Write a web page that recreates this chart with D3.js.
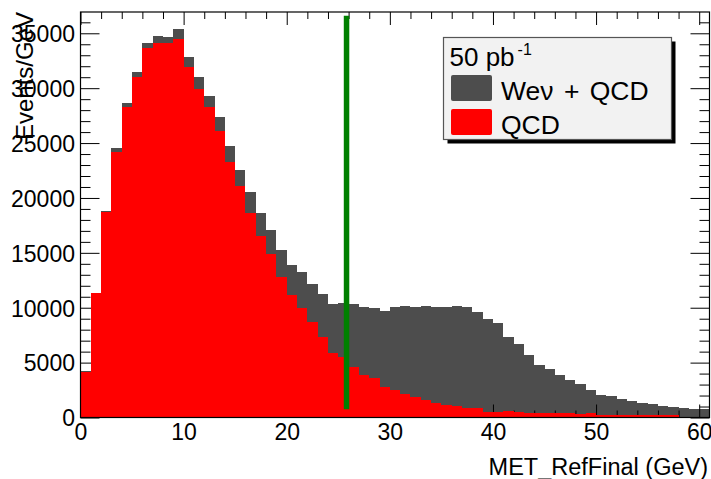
<!DOCTYPE html>
<html><head><meta charset="utf-8">
<script src="https://cdn.jsdelivr.net/npm/d3@7"></script>
<style>body{margin:0;background:#fff}svg{display:block}</style>
</head><body><svg id="c" width="711" height="479"></svg>
<script>
// ---- data ----
const binLow = [0,1,2,3,4,5,6,7,8,9,10,11,12,13,14,15,16,17,18,19,20,21,22,23,24,25,26,27,28,29,30,
  31,32,33,34,35,36,37,38,39,40,41,42,43,44,45,46,47,48,49,50,51,52,53,54,55,56,57,58,59,60];
const binWidth = 1;
const totalWeQCD = [4200,11350,18800,24520,28620,31500,34140,34750,34640,35360,
  32870,30990,29290,27350,24760,22550,20570,18660,17080,15260,
  13890,13280,12140,11230,10340,10460,10340,10090,9950,9680,
  10040,10160,10040,10160,10090,10090,10160,10090,9610,8950,
  8580,7310,6700,5690,4780,4390,3870,3420,3030,2510,
  2020,1960,1660,1500,1290,1200,1050,980,890,750,750];
const qcdOnly = [4170,11320,18750,24210,28310,31050,33690,34140,34140,34450,
  31960,29900,28260,26100,23250,21090,18660,16540,14900,12830,
  11160,9950,8670,7360,5900,5540,4570,3870,3570,2810,
  2510,2140,1840,1590,1290,1140,1050,840,840,530,
  530,620,530,440,380,380,380,380,320,380,
  230,230,230,230,230,230,230,230,70,70,70];
const xTickValues = [0,10,20,30,40,50,60];
const xTickLabels = ["0","10","20","30","40","50","60"];
const yTickValues = [0,5000,10000,15000,20000,25000,30000,35000];
const yTickLabels = ["0","5000","10000","15000","20000","25000","30000","35000"];
const cutValue = 25.8;
const cutYRange = [750, 36600];
const lumiText = "50 pb";
const lumiSup = "-1";
const seriesNames = ["Weν + QCD", "QCD"];
const seriesColors = ["#4d4d4d", "#ff0000"];
const xTitle = "MET_RefFinal (GeV)";
const yTitle = "Events/GeV";

// ---- layout ----
const L = 80.5, R = 709.5, T = 12, B = 417.5;
const FONT = "'Liberation Sans', Arial, Helvetica, sans-serif";
const svg = d3.select("#c");
const x = d3.scaleLinear().domain([0, 61]).range([L, R]);
const y = d3.scaleLinear().domain([0, 36940]).range([B, T]);

const bins = binLow.map((b, i) => ({lo: b, hi: b + binWidth, tot: totalWeQCD[i], qcd: qcdOnly[i]}));

// gray (total) histogram
svg.append("g").attr("shape-rendering", "crispEdges")
  .selectAll("rect").data(bins).join("rect")
  .attr("x", d => x(d.lo)).attr("width", d => x(d.hi) - x(d.lo))
  .attr("y", d => y(d.tot)).attr("height", d => y(0) - y(d.tot))
  .attr("fill", seriesColors[0]);

// axes (ticks inside the frame)
function styleAxis(g) {
  g.select(".domain").remove();
  g.selectAll("line").attr("stroke", "#000").attr("stroke-width", 1);
  g.selectAll("text").attr("font-family", FONT).attr("font-size", 23).attr("fill", "#000");
}
const xMinor = d3.range(0, 61, 2).filter(v => v % 10 !== 0);
const yMinor = d3.range(0, 36001, 1000).filter(v => v % 5000 !== 0);

// bottom
svg.append("g").attr("transform", `translate(0,${B})`)
  .call(d3.axisBottom(x).tickValues(xTickValues).tickFormat((d, i) => xTickLabels[i]).tickSizeInner(-13).tickSizeOuter(0).tickPadding(5))
  .call(styleAxis).call(g => g.selectAll("text").attr("dy", null).attr("y", 22.5));
svg.append("g").attr("transform", `translate(0,${B})`)
  .call(d3.axisBottom(x).tickValues(xMinor).tickFormat("").tickSizeInner(-7).tickSizeOuter(0))
  .call(styleAxis);
// top
svg.append("g").attr("transform", `translate(0,${T})`)
  .call(d3.axisTop(x).tickValues(xTickValues).tickFormat("").tickSizeInner(-13).tickSizeOuter(0))
  .call(styleAxis);
svg.append("g").attr("transform", `translate(0,${T})`)
  .call(d3.axisTop(x).tickValues(xMinor).tickFormat("").tickSizeInner(-7).tickSizeOuter(0))
  .call(styleAxis);
// left
svg.append("g").attr("transform", `translate(${L},0)`)
  .call(d3.axisLeft(y).tickValues(yTickValues).tickFormat((d, i) => yTickLabels[i]).tickSizeInner(-19).tickSizeOuter(0).tickPadding(5.5))
  .call(styleAxis).call(g => g.selectAll("text").attr("dy", "0.36em"));
svg.append("g").attr("transform", `translate(${L},0)`)
  .call(d3.axisLeft(y).tickValues(yMinor).tickFormat("").tickSizeInner(-10).tickSizeOuter(0))
  .call(styleAxis);
// right
svg.append("g").attr("transform", `translate(${R},0)`)
  .call(d3.axisRight(y).tickValues(yTickValues).tickFormat("").tickSizeInner(-19).tickSizeOuter(0))
  .call(styleAxis);
svg.append("g").attr("transform", `translate(${R},0)`)
  .call(d3.axisRight(y).tickValues(yMinor).tickFormat("").tickSizeInner(-10).tickSizeOuter(0))
  .call(styleAxis);

// red (QCD) histogram drawn over ticks
svg.append("g").attr("shape-rendering", "crispEdges")
  .selectAll("rect").data(bins).join("rect")
  .attr("x", d => x(d.lo)).attr("width", d => x(d.hi) - x(d.lo))
  .attr("y", d => y(d.qcd)).attr("height", d => y(0) - y(d.qcd))
  .attr("fill", seriesColors[1]);

// frame
svg.append("rect").attr("x", L).attr("y", T).attr("width", R - L).attr("height", B - T)
  .attr("fill", "none").attr("stroke", "#000").attr("stroke-width", 1.2);

// cut line
svg.append("line")
  .attr("x1", x(cutValue)).attr("x2", x(cutValue))
  .attr("y1", y(cutYRange[0])).attr("y2", y(cutYRange[1]))
  .attr("stroke", "#008000").attr("stroke-width", 5.5);

// axis titles
svg.append("text").attr("x", 708).attr("y", 475).attr("text-anchor", "end")
  .attr("font-family", FONT).attr("font-size", 23.5).text(xTitle);
svg.append("text").attr("transform", "translate(33,12) rotate(-90)").attr("text-anchor", "end")
  .attr("font-family", FONT).attr("font-size", 24).text(yTitle);

// legend
const lg = svg.append("g");
lg.append("rect").attr("x", 447.5).attr("y", 41.5).attr("width", 228).attr("height", 102).attr("fill", "#000");
lg.append("rect").attr("x", 443.5).attr("y", 37.5).attr("width", 228).attr("height", 102)
  .attr("fill", "#f2f2f2").attr("stroke", "#555").attr("stroke-width", 1.2);
const lt = lg.append("text").attr("x", 449.5).attr("y", 66).attr("font-family", FONT).attr("font-size", 26);
lt.append("tspan").text(lumiText);
lt.append("tspan").attr("dx", 3).attr("dy", -11).attr("font-size", 16).text(lumiSup);
const entryY = [75, 109];
seriesNames.forEach((name, i) => {
  lg.append("rect").attr("x", 451).attr("y", entryY[i]).attr("width", 41).attr("height", 26)
    .attr("rx", 2).attr("fill", seriesColors[i]);
  lg.append("text").attr("x", 501).attr("y", entryY[i] + 24.5)
    .attr("font-family", FONT).attr("font-size", 26.5).attr("word-spacing", 3).text(name);
});
</script></body></html>
